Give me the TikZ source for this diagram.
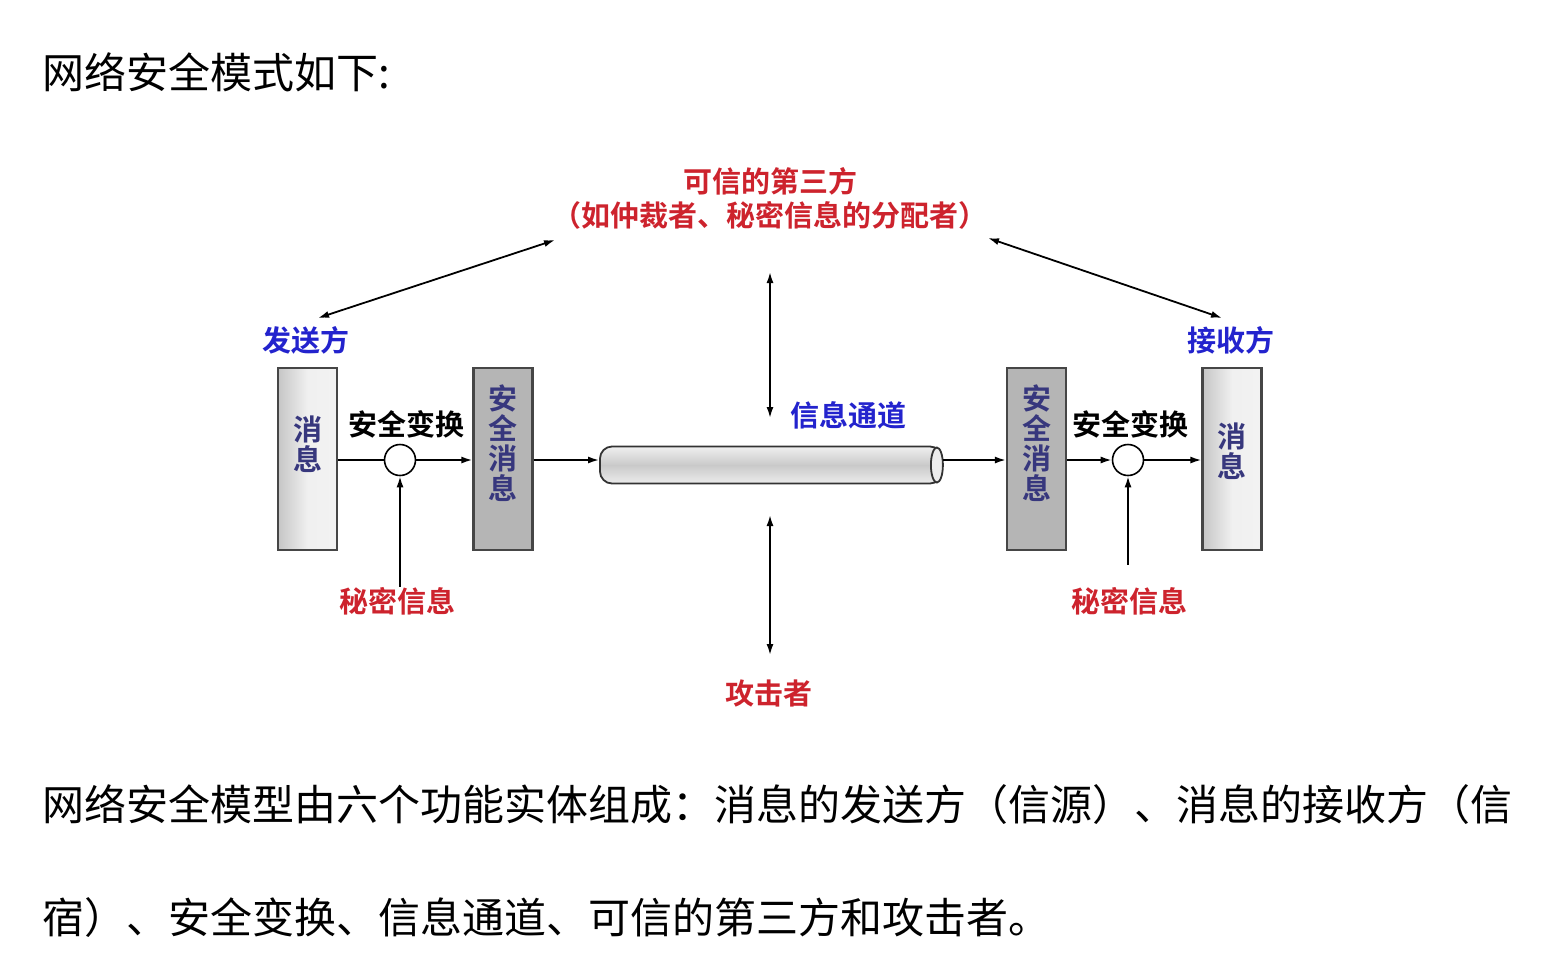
\documentclass[tikz,border=0pt]{standalone}
\usepackage{fontspec}
\newfontfamily\cjk{Noto Sans CJK SC}[BoldFont={Noto Sans CJK SC Bold}]
\usetikzlibrary{arrows.meta}
\definecolor{tred}{RGB}{205,35,45}
\definecolor{tblue}{RGB}{35,35,205}
\definecolor{boxtext}{RGB}{55,55,125}
\begin{document}
\begin{tikzpicture}[x=1pt,y=-1pt,
  body/.style={font=\cjk\fontsize{42}{50}\selectfont, anchor=west, inner sep=0},
  lbl/.style={font=\cjk\bfseries\fontsize{29}{34}\selectfont, inner sep=0, align=center},
  redlbl/.style={lbl, text=tred},
  bluelbl/.style={lbl, text=tblue},
  boxtxt/.style={font=\cjk\bfseries\fontsize{29}{30}\selectfont, text=boxtext, inner sep=0, align=center},
  box/.style={draw=gray!55!black, line width=2.2pt, minimum width=59pt, minimum height=182pt, inner sep=0},
  lightbox/.style={box, left color=gray!45, right color=gray!10, middle color=gray!12},
  darkbox/.style={box, fill=gray!58},
  tip/.style={-{Latex[length=11pt,width=7pt]}},
  arr/.style={tip, line width=1.8pt},
  darr/.style={{Latex[length=11pt,width=7pt]}-{Latex[length=11pt,width=7pt]}, line width=1.8pt},
  junction/.style={circle, draw, line width=1.6pt, fill=white, minimum size=31pt, inner sep=0},
  pipe/.style={draw=gray!40!black, line width=1.8pt, rounded corners=12pt, minimum width=342pt, minimum height=37pt, inner sep=0,
    top color=gray!12, bottom color=gray!15, middle color=gray!42},
]
\fill[white] (0,0) rectangle (1554,970);
\useasboundingbox (0,0) rectangle (1554,970);

% heading and closing paragraph
\node[body] (head) at (42,72) {网络安全模式如下:};
\node[body] (para1) at (42,805) {网络安全模型由六个功能实体组成：消息的发送方（信源）、消息的接收方（信};
\node[body] (para2) at (42,918) {宿）、安全变换、信息通道、可信的第三方和攻击者。};

% trusted third party
\node[redlbl] (ttp) at (770,198) {可信的第三方\\（如仲裁者、秘密信息的分配者）};

% sender / receiver labels
\node[bluelbl] (sender) at (306,340) {发送方};
\node[bluelbl] (receiver) at (1231,340) {接收方};

% message boxes
\node[lightbox] (m1) at (307.5,459) {};
\node[boxtxt, yshift=15pt] (m1t) at (m1.center) {消\\息};
\node[darkbox] (s1) at (503,459) {};
\node[boxtxt, yshift=16pt] (s1t) at (s1.center) {安\\全\\消\\息};
\node[darkbox] (s2) at (1036.5,459) {};
\node[boxtxt, yshift=16pt] (s2t) at (s2.center) {安\\全\\消\\息};
\node[lightbox] (m2) at (1232,459) {};
\node[boxtxt, yshift=8pt] (m2t) at (m2.center) {消\\息};

% security transforms
\node[junction] (j1) at (400,460) {};
\node[junction] (j2) at (1128,460) {};
\node[lbl] (tr1) at (406,424) {安全变换};
\node[lbl] (tr2) at (1130,424) {安全变换};

% secret information
\node[redlbl] (k1) at (397,601) {秘密信息};
\node[redlbl] (k2) at (1129,601) {秘密信息};

% channel
\node[pipe] (pipe) at (771,465) {};
\draw[gray!40!black, line width=1.8pt, fill=gray!15] (pipe.east) ++(-6,0) ellipse (6 and 17.5);
\node[bluelbl] (chan) at (848,415) {信息通道};

% attacker
\node[redlbl] (att) at (769,693) {攻击者};

% flow along the channel
\draw[line width=1.8pt] (m1.east |- j1) -- (j1.west);
\draw[arr] (j1.east) -- (s1.west |- j1);
\draw[arr] (s1.east |- j1) -- (pipe.west |- j1);
\draw[arr] (pipe.east |- j1) -- (s2.west |- j1);
\draw[arr] (s2.east |- j2) -- (j2.west);
\draw[arr] (j2.east) -- (m2.west |- j2);

% keys into the transforms
\draw[arr] (k1.north -| j1) -- (j1.south);
\draw[arr, shorten <=22pt] (k2.north -| j2) -- (j2.south);

% links to the third party
\coordinate (ttpL) at (555,240);
\coordinate (ttpR) at (988,238);
\coordinate (sendT) at (318,318);
\coordinate (recvT) at (1222,318);
\draw[darr] (ttpL) -- (sendT);
\draw[darr] (ttpR) -- (recvT);

% links to the channel from above and below
\coordinate (upT) at (770,272);
\coordinate (upB) at (770,418);
\coordinate (dnT) at (770,515);
\coordinate (dnB) at (770,655);
\draw[darr] (upT) -- (upB);
\draw[darr] (dnT) -- (dnB);
\end{tikzpicture}
\end{document}
